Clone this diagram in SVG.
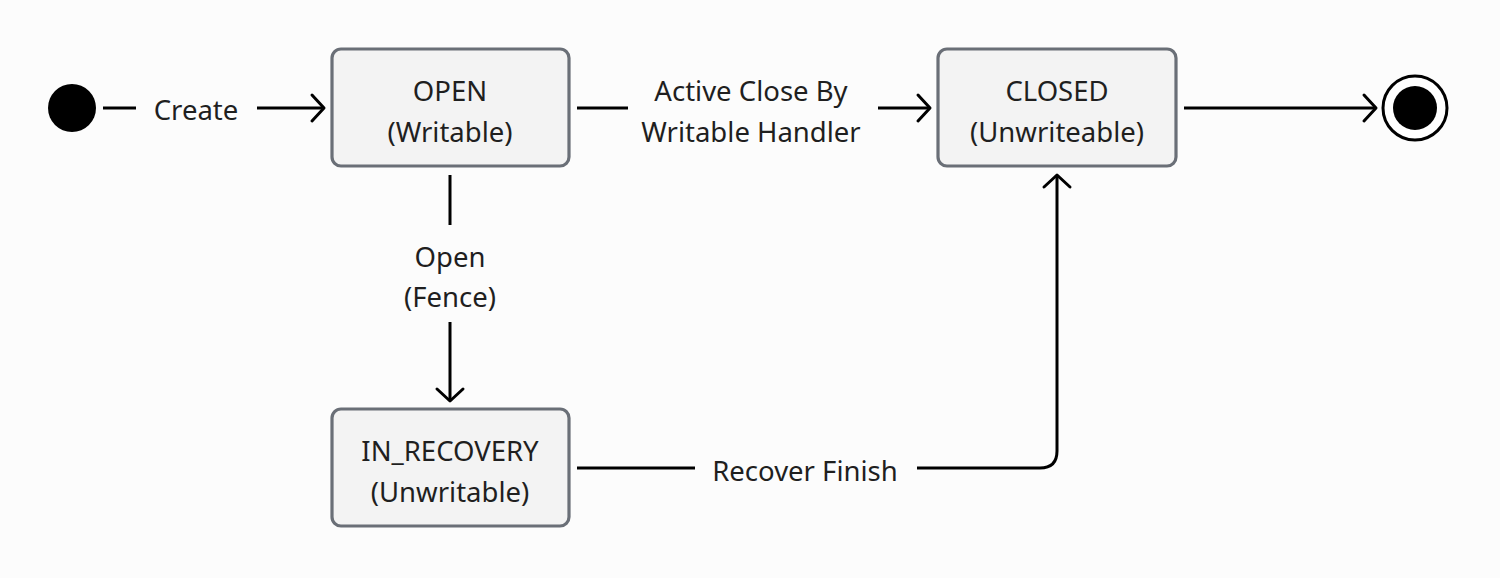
<svg xmlns="http://www.w3.org/2000/svg" width="1500" height="578" viewBox="0 0 1500 578">
<style>
.node rect{fill:#f3f3f3;stroke:#6a6f77;stroke-width:3.2}
text{font-family:"Source Sans Pro","Noto Sans","Open Sans",sans-serif;font-size:27.5px;fill:#1f1f1f;text-anchor:middle;dominant-baseline:central}
.edge{fill:none;stroke:#000;stroke-width:3}
.head{fill:none;stroke:#000;stroke-width:3;stroke-linecap:round;stroke-linejoin:round}
</style>
<rect width="1500" height="578" fill="#fcfcfc"/>
<g id="start"><circle cx="72" cy="108" r="24" fill="#000"/></g>
<g id="open" class="node"><rect x="332" y="49" width="237" height="117" rx="9"/><text x="450" y="90">OPEN</text><text x="450" y="131">(Writable)</text></g>
<g id="closed" class="node"><rect x="938" y="49" width="238" height="117" rx="9"/><text x="1057" y="90">CLOSED</text><text x="1057" y="131">(Unwriteable)</text></g>
<g id="recovery" class="node"><rect x="332" y="409" width="237" height="117" rx="9"/><text x="450" y="450">IN_RECOVERY</text><text x="450" y="491">(Unwritable)</text></g>
<g id="end"><circle cx="1415" cy="108" r="32" fill="#fff" stroke="#000" stroke-width="3"/><circle cx="1415" cy="108" r="22" fill="#000"/></g>
<g id="connectors">
<path class="edge" d="M103 108H136M257 108H322"/>
<path class="head" d="M312 95L324 108L312 121"/>
<text x="196" y="109">Create</text>
<path class="edge" d="M577 108H628M878 108H928"/>
<path class="head" d="M918 95L930 108L918 121"/>
<text x="751" y="90">Active Close By</text><text x="751" y="131">Writable Handler</text>
<path class="edge" d="M1184 108H1374"/>
<path class="head" d="M1364 95L1376 108L1364 121"/>
<path class="edge" d="M450 175V225M450 322V399"/>
<path class="head" d="M437 389L450 401L463 389"/>
<text x="450" y="256">Open</text><text x="450" y="296">(Fence)</text>
<path class="edge" d="M577 468H695M917 468H1040Q1057 468 1057 451V177"/>
<path class="head" d="M1044 187L1057 175L1070 187"/>
<text x="805" y="470">Recover Finish</text>
</g>
</svg>
